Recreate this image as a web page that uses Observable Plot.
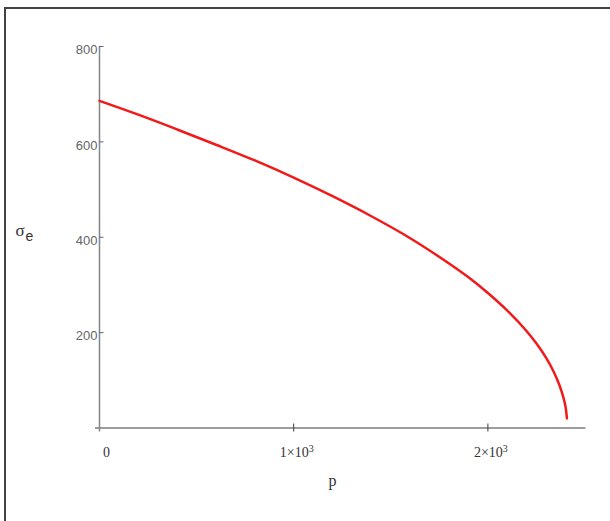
<!DOCTYPE html>
<html><head><meta charset="utf-8">
<script src="https://cdn.jsdelivr.net/npm/d3@7"></script>
<script src="https://cdn.jsdelivr.net/npm/@observablehq/plot@0.6"></script>
<style>
html,body{margin:0;padding:0;background:#fff;}
#wrap{position:relative;width:610px;height:521px;overflow:hidden;background:#fff;}
#chart{position:absolute;left:0;top:0;}
#frame{position:absolute;left:4px;top:7px;width:700px;height:600px;border-left:2px solid #444;border-top:2px solid #444;pointer-events:none;}
</style></head><body>
<div id="wrap"><div id="chart"></div><div id="frame"></div></div>
<script>
// values
const pValues     = [0, 200, 400, 600, 800, 1000, 1200, 1400, 1600, 1800, 1900, 2000, 2100, 2200, 2250, 2300, 2340, 2370, 2390, 2400, 2407];
const sigmaValues = [686, 657, 626, 594, 561, 525, 486, 444, 398, 345, 316, 283, 246, 203, 177, 147, 117, 88, 62, 44, 20];

const xTicks = [0, 1000, 2000];
const xTickLabels = ["0", "1×10³", "2×10³"];
const yTicks = [200, 400, 600, 800];
const yTickLabels = ["200", "400", "600", "800"];
const xLabel = "p";
const yLabel = "σ";
const yLabelSub = "e";

const data = pValues.map((p, i) => ({p, s: sigmaValues[i]}));
const xt = xTicks.map((v, i) => ({v, label: xTickLabels[i]}));
const yt = yTicks.map((v, i) => ({v, label: yTickLabels[i]}));

const serif = "Liberation Serif, Times New Roman, serif";
const sans = "Liberation Sans, Arial, sans-serif";

const chart = Plot.plot({
  width: 610, height: 521,
  marginLeft: 99, marginRight: 25.5, marginTop: 46, marginBottom: 93.5,
  x: {domain: [0, 2500], axis: null},
  y: {domain: [0, 800], axis: null},
  style: {background: "transparent", overflow: "visible"},
  marks: [
    Plot.ruleY([0], {x1: 0, x2: 2500, stroke: "#3c3c3c", strokeWidth: 1, insetLeft: -4, insetRight: -1}),
    Plot.ruleX(xt.filter(d => d.v > 0), {x: "v", y1: 0, y2: 0, insetTop: -4, insetBottom: -4, stroke: "#3c3c3c"}),
    Plot.ruleX([0], {y1: 800, y2: 0, stroke: "#858585", strokeWidth: 1.5, insetBottom: -4}),
    Plot.ruleY(yt, {y: "v", x1: 0, x2: 0, insetRight: -4.5, stroke: "#666"}),
    Plot.text(yt, {x: 0, y: "v", text: "label", textAnchor: "end", dx: -2, dy: 3.5,
      fontFamily: sans, fontSize: 13, fill: "#666"}),
    Plot.text(xt.filter(d => d.v > 0), {x: "v", y: 0, text: "label", dx: 3, dy: 25,
      fontFamily: serif, fontSize: 14, fill: "#333", className: "xlab"}),
    Plot.text(xt.filter(d => d.v === 0), {x: "v", y: 0, text: "label", dx: 7, dy: 25,
      fontFamily: serif, fontSize: 14, fill: "#333"}),
    Plot.text([xLabel], {frameAnchor: "bottom", text: d => d, dx: -9.75, dy: 57.7,
      fontFamily: serif, fontSize: 16, fill: "#333"}),
    Plot.text([yLabel], {frameAnchor: "left", text: d => d, textAnchor: "start", dx: -84, dy: -6.5,
      fontFamily: serif, fontSize: 17, fill: "#333"}),
    Plot.text([yLabelSub], {frameAnchor: "left", text: d => d, textAnchor: "start", dx: -74, dy: -0.5,
      fontFamily: sans, fontSize: 14, fill: "#333"}),
    Plot.line(data, {x: "p", y: "s", stroke: "#f01a1a", strokeWidth: 2.5, curve: "catmull-rom"})
  ]
});
// render the exponent as a raised tspan
d3.select(chart).selectAll(".xlab text").each(function() {
  const t = d3.select(this);
  const s = t.text();
  if (s.includes("³")) {
    t.text("");
    t.append("tspan").text(s.replace("³", ""));
    t.append("tspan").attr("dy", "-0.5em").attr("font-size", 10).text("3");
  }
});
document.getElementById("chart").appendChild(chart);
</script>
</body></html>
